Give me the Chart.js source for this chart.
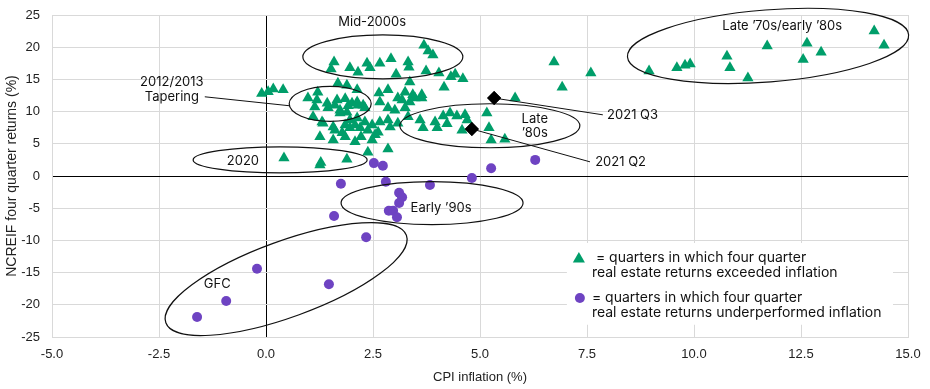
<!DOCTYPE html>
<html><head><meta charset="utf-8">
<script src="https://cdn.jsdelivr.net/npm/chart.js@4/dist/chart.umd.min.js"></script>
<style>html,body{margin:0;padding:0;background:#fff;}#wrap{width:930px;height:389px;}</style>
</head><body><div id="wrap"><canvas id="c" width="930" height="389"></canvas></div>
<script>
// ---- Data (CPI inflation %, NCREIF four quarter return %) ----
const xTickValues = [-5, -2.5, 0, 2.5, 5, 7.5, 10, 12.5, 15];
const yTickValues = [-25, -20, -15, -10, -5, 0, 5, 10, 15, 20, 25];

const exceededPoints = [
  [-0.1,12.8],[0.05,13.1],[0.17,13.5],[0.4,13.4],
  [0.42,2.8],[1.26,1.7],[1.28,2.1],[1.89,2.6],[2.38,3.7],[2.85,4.2],
  [1.59,17.7],[1.52,16.6],[1.96,16.8],[2.15,16.1],[2.36,17.5],[2.43,16.8],[2.66,17.5],[2.92,18.2],
  [3.32,17.7],[3.34,16.9],[3.69,20.3],[3.79,19.4],[3.90,18.8],[3.04,15.8],[3.74,16.3],[4.04,16.0],
  [4.32,15.4],[4.42,15.8],[4.60,15.1],[4.16,13.8],[3.36,14.6],[2.85,13.4],[2.64,12.9],[3.25,13.0],
  [3.43,12.6],[3.64,12.6],[1.68,14.4],[1.89,14.1],[1.21,13.0],[2.13,13.4],[3.08,12.1],
  [0.98,12.1],[1.19,11.8],[1.14,10.7],[1.43,11.3],[1.45,10.6],[1.61,11.0],[1.66,11.8],[1.73,10.2],
  [1.85,12.0],[1.89,9.9],[1.92,10.9],[2.01,11.3],[2.13,11.5],[2.15,11.0],[2.27,11.0],[2.31,10.6],
  [1.10,9.2],[1.31,8.4],[1.73,9.8],
  [1.57,7.6],[1.61,7.1],[1.78,6.7],[1.96,7.5],[2.08,7.9],[2.20,7.5],[1.26,6.1],[1.57,5.6],[1.85,6.1],
  [2.08,5.3],[2.22,6.1],[1.96,8.7],[2.13,9.0],[1.85,7.9],[2.31,8.4],[2.38,7.1],[2.48,7.9],[2.55,6.4],
  [2.48,5.6],[1.33,8.2],
  [2.66,11.5],[2.85,10.6],[3.01,10.2],[3.25,10.6],[3.36,11.5],[3.48,12.1],[3.64,12.1],[3.18,11.8],
  [2.66,8.4],[2.85,8.7],[2.90,7.6],[2.62,6.8],[3.08,8.2],[3.32,9.2],
  [3.60,8.7],[3.67,7.5],[3.95,8.4],[4.00,7.5],[4.14,9.3],[4.23,8.1],[4.30,9.8],[4.46,9.3],[4.58,7.1],
  [4.65,9.5],[4.70,8.7],
  [5.16,9.8],[5.21,7.5],[5.26,5.6],[5.58,5.7],[5.82,12.1],[6.73,17.7],[6.92,13.8],[7.59,16.0],
  [8.95,16.3],[9.60,16.8],[9.79,17.2],[9.91,17.4],[10.77,18.6],[10.84,16.8],[11.26,15.2],[11.71,20.2],
  [12.64,20.6],[12.55,18.1],[12.97,19.2],[14.21,22.5],[14.44,20.3]
];

const underperformedPoints = [
  [1.75,-1.2],[2.52,2.0],[2.73,1.6],[2.80,-0.9],[3.11,-2.6],[3.18,-3.3],[3.11,-4.2],[2.87,-5.4],
  [2.97,-5.4],[3.06,-6.4],[1.59,-6.2],[2.34,-9.5],[3.83,-1.4],[4.81,-0.3],[5.26,1.2],[6.29,2.5],
  [-0.21,-14.4],[1.47,-16.8],[-0.93,-19.4],[-1.61,-21.9]
];

const recentLabels = ['2021 Q3', '2021 Q2'];
const recentPoints = [[5.33,12.1],[4.81,7.3]];

// Annotation ellipses: center (data), radii/rotation (px)
const ellipseNotes = [
  {c:[2.73,18.5], rx:80, ry:22, rot:0},
  {c:[1.50,11.2], rx:41, ry:17.5, rot:0},
  {c:[5.23,7.8], rx:90, ry:22, rot:0},
  {c:[11.73,20.2], rx:141, ry:36, rot:-4.5},
  {c:[0.33,2.5], rx:87, ry:13, rot:0},
  {c:[3.88,-4.2], rx:91, ry:21.5, rot:0},
  {c:[0.47,-16.0], rx:128, ry:38, rot:-20}
];
const textNotes = [
  {t:'Mid-2000s', p:[2.48,23.9], align:'center'},
  {t:'2012/2013', p:[-2.2,14.6], align:'center'},
  {t:'Tapering', p:[-2.2,12.3], align:'center'},
  {t:'Late', p:[6.28,8.85], align:'center'},
  {t:'\u201980s', p:[6.28,6.7], align:'center'},
  {t:'Late \u201970s/early \u201980s', p:[12.06,23.3], align:'center'},
  {t:'2020', p:[-0.54,2.3], align:'center'},
  {t:'Early \u201990s', p:[4.09,-5.0], align:'center'},
  {t:'GFC', p:[-1.14,-16.8], align:'center'},
  {t:recentLabels[0], p:[7.97,9.5], align:'left'},
  {t:recentLabels[1], p:[7.69,2.2], align:'left'}
];
const leaderLines = [
  [[-1.43,12.3],[0.56,10.9]],
  [[5.33,12.1],[7.87,9.5]],
  [[4.81,7.3],[7.57,2.2]]
];
const legendLines = [
  '= quarters in which four quarter',
  'real estate returns exceeded inflation',
  '= quarters in which four quarter',
  'real estate returns underperformed inflation'
];

const GREEN = '#009e6a', PURPLE = '#6e43c2', GRID = '#d9d9d9';
const FONT = 'Inter, "Noto Sans", "Liberation Sans", sans-serif';

function toXY(arr){ return arr.map(p => ({x:p[0], y:p[1]})); }

const notesPlugin = {
  id: 'notes',
  afterDatasetsDraw(chart){
    const ctx = chart.ctx, xs = chart.scales.x, ys = chart.scales.y;
    const px = v => xs.getPixelForValue(v), py = v => ys.getPixelForValue(v);
    ctx.save();
    ctx.strokeStyle = '#111'; ctx.lineWidth = 1.2;
    ellipseNotes.forEach(e => {
      ctx.beginPath();
      ctx.ellipse(px(e.c[0]), py(e.c[1]), e.rx, e.ry, e.rot*Math.PI/180, 0, Math.PI*2);
      ctx.stroke();
    });
    ctx.lineWidth = 1;
    leaderLines.forEach(l => {
      ctx.beginPath();
      ctx.moveTo(px(l[0][0]), py(l[0][1]));
      ctx.lineTo(px(l[1][0]), py(l[1][1]));
      ctx.stroke();
    });
    const meta = chart.getDatasetMeta(0);
    meta.data.forEach(el => el.draw(ctx, chart.chartArea));
    ctx.fillStyle = '#111';
    ctx.font = '13px ' + FONT;
    ctx.textBaseline = 'middle';
    textNotes.forEach(n => {
      ctx.textAlign = n.align;
      ctx.fillText(n.t, px(n.p[0]), py(n.p[1]));
    });
    // legend box
    const lx = px(7.03), ly = py(-10.4), rx = px(14.65), by = py(-23.1);
    ctx.fillStyle = '#fff';
    ctx.fillRect(lx, ly, rx - lx, by - ly);
    const H = Chart.helpers;
    function marker(style, r, color, x, y){
      ctx.fillStyle = color;
      if (H && H.drawPoint) { H.drawPoint(ctx, {pointStyle:style, radius:r, rotation:0, borderWidth:0}, x, y); }
      else { ctx.beginPath(); ctx.arc(x, y, r, 0, Math.PI*2); ctx.fill(); }
    }
    marker('triangle', 7, GREEN, lx + 12, ly + 16);
    marker('circle', 5, PURPLE, lx + 13, ly + 55);
    ctx.fillStyle = '#111';
    ctx.textAlign = 'left';
    ctx.font = '14px ' + FONT;
    ctx.fillText(legendLines[0], lx + 29, ly + 15);
    ctx.fillText(legendLines[1], lx + 25, ly + 30);
    ctx.fillText(legendLines[2], lx + 25, ly + 55);
    ctx.fillText(legendLines[3], lx + 25, ly + 70);
    ctx.restore();
  }
};

new Chart(document.getElementById('c'), {
  type: 'scatter',
  data: {
    datasets: [
      {label: 'Recent', data: toXY(recentPoints), pointStyle: 'rectRot', pointRadius: 7, backgroundColor: '#000', borderWidth: 0},
      {label: 'Exceeded', data: toXY(exceededPoints), pointStyle: 'triangle', pointRadius: 6.5, backgroundColor: GREEN, borderWidth: 0},
      {label: 'Underperformed', data: toXY(underperformedPoints), pointStyle: 'circle', pointRadius: 5, backgroundColor: PURPLE, borderWidth: 0}
    ]
  },
  options: {
    responsive: false, animation: false, devicePixelRatio: 1,
    layout: {padding: {left: 0, right: 22, top: 15, bottom: 0}},
    plugins: {legend: {display: false}, tooltip: {enabled: false}},
    elements: {point: {hoverRadius: 6.5}},
    scales: {
      x: {
        type: 'linear', min: -5, max: 15,
        afterBuildTicks: s => { s.ticks = xTickValues.map(v => ({value: v})); },
        afterFit: s => { s.height = 52; s.paddingLeft = 0; s.paddingRight = 0; },
        ticks: {padding: 10, color: '#222', font: {size: 13, family: '"Liberation Sans", Arial, sans-serif'}, callback: v => Number(v).toFixed(1)},
        grid: {drawTicks: false, color: c => (c.tick && c.tick.value === 0) ? '#000' : GRID},
        border: {color: GRID},
        title: {display: true, text: 'CPI inflation (%)', color: '#222', padding: {top: 0, bottom: 4}, font: {size: 13, family: '"Liberation Sans", Arial, sans-serif'}}
      },
      y: {
        type: 'linear', min: -25, max: 25,
        afterBuildTicks: s => { s.ticks = yTickValues.map(v => ({value: v})); },
        afterFit: s => { s.width = 52; s.paddingTop = 0; s.paddingBottom = 0; },
        ticks: {padding: 12, color: '#222', font: {size: 13, family: '"Liberation Sans", Arial, sans-serif'}},
        grid: {drawTicks: false, color: c => (c.tick && c.tick.value === 0) ? '#000' : GRID},
        border: {color: GRID},
        title: {display: true, text: 'NCREIF four quarter returns (%)', color: '#222', padding: {top: 4, bottom: 0}, font: {size: 14, family: '"Liberation Sans", Arial, sans-serif'}}
      }
    }
  },
  plugins: [notesPlugin]
});
</script>
</body></html>
